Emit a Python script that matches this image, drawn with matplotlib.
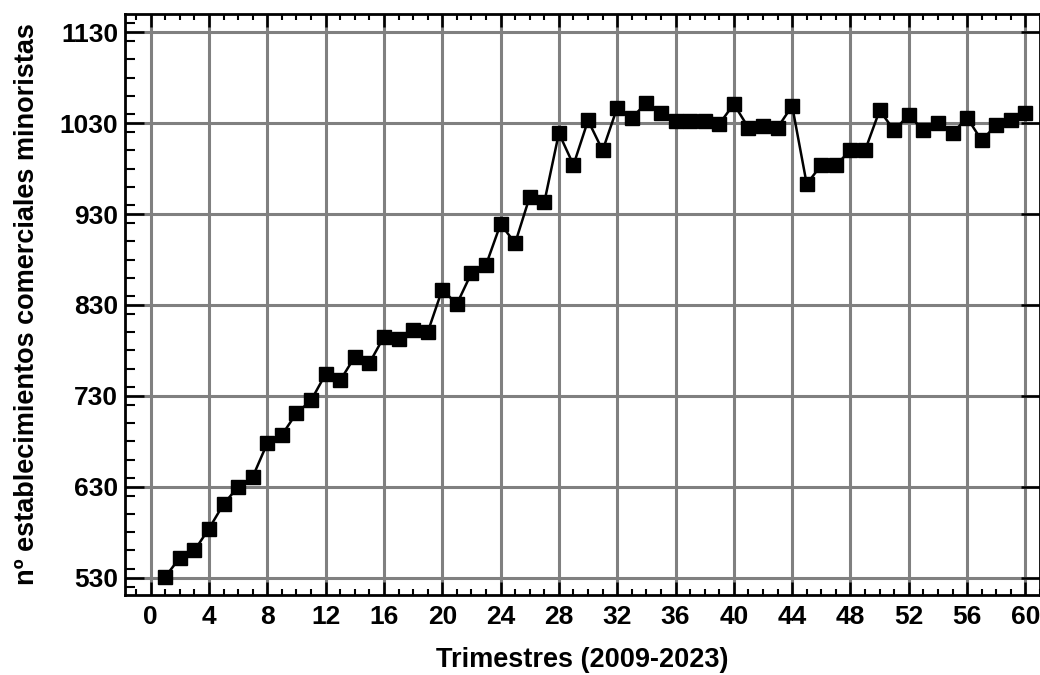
import numpy as np
import matplotlib.pyplot as plt
from matplotlib.ticker import MultipleLocator

# Trimestres 1..60 (2009-2023)
trimestres = np.arange(1, 61)
establecimientos = [
    531, 552, 560, 584, 611, 630, 641, 678, 687, 711,
    725, 754, 747, 773, 766, 795, 793, 803, 800, 847,
    831, 865, 874, 919, 898, 949, 943, 1019, 984, 1033,
    1000, 1047, 1036, 1052, 1041, 1032, 1032, 1032, 1029, 1051,
    1025, 1027, 1025, 1049, 963, 984, 984, 1000, 1000, 1044,
    1022, 1039, 1022, 1030, 1019, 1036, 1011, 1028, 1033, 1041,
]

plt.rcParams['font.family'] = ['Liberation Sans', 'DejaVu Sans']
plt.rcParams['font.weight'] = 'bold'

fig = plt.figure(figsize=(10.4, 6.75), dpi=100)
ax = fig.add_axes([0.1202, 0.1185, 0.8798, 0.8607])

ax.plot(trimestres, establecimientos, color='black', lw=1.8,
        marker='s', ms=10, mfc='black', mec='black', zorder=3, clip_on=False)

ax.set_xlim(-1.76, 61.0)
ax.set_ylim(511, 1150)

ax.xaxis.set_major_locator(MultipleLocator(4))
ax.xaxis.set_minor_locator(MultipleLocator(1))
ax.set_yticks(np.arange(530, 1131, 100))
ax.yaxis.set_minor_locator(MultipleLocator(20))

ax.grid(True, which='major', color='#808080', lw=2.2, zorder=1)
ax.set_axisbelow(True)

for s in ax.spines.values():
    s.set_linewidth(2)

ax.tick_params(axis='x', which='major', direction='in', length=9.5, width=1.8,
               top=True, labelsize=19, pad=7)
ax.tick_params(axis='x', which='minor', direction='in', length=4, width=1.5, top=True)
ax.tick_params(axis='y', which='major', direction='in', length=14, width=1.8,
               right=True, labelsize=19, pad=5)
ax.tick_params(axis='y', which='minor', direction='in', length=7, width=1.5, right=False)

ax.set_xlabel('Trimestres (2009-2023)', fontsize=19.5, fontweight='bold', labelpad=13)
ax.set_ylabel('nº establecimientos comerciales minoristas', fontsize=19.5,
              fontweight='bold', labelpad=14)

fig.savefig('out.png', dpi=100)
